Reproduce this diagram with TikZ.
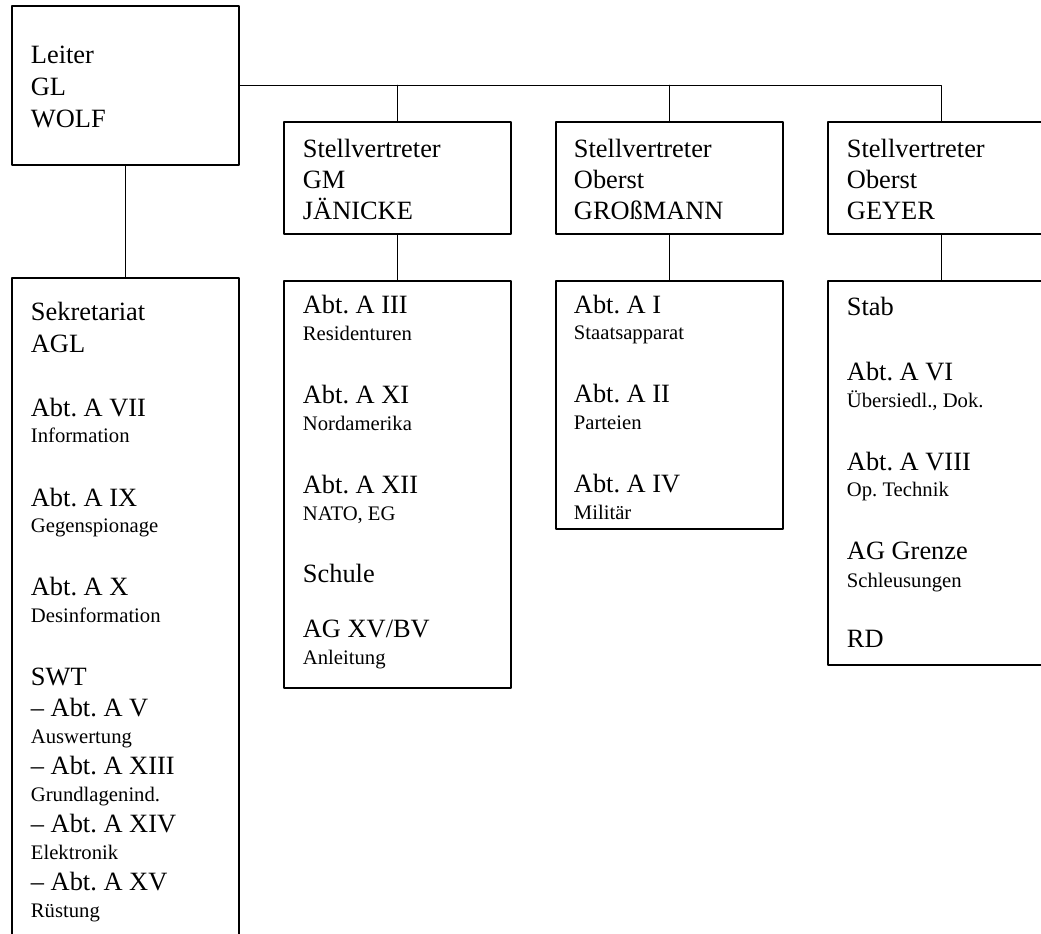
\documentclass[tikz,border=0pt]{standalone}
\usepackage{fontspec}
\setmainfont{Liberation Serif}
\frenchspacing
\tikzset{
  box/.style={draw,rectangle,inner sep=0pt,outer sep=0pt,anchor=north west,minimum width=170.25pt},
  txtbig/.style={inner sep=0pt,anchor=base west,font=\fontsize{19.8}{24}\selectfont},
  txtsmall/.style={inner sep=0pt,anchor=base west,font=\fontsize{15.5}{18}\selectfont}
}

\begin{document}
\begin{tikzpicture}[line cap=round,line join=round,line width=1.4pt,x=0.75pt,y=-0.75pt]
\useasboundingbox (0,0) rectangle (1041,933);
\clip (0,0) rectangle (1041,933);
\node[box,minimum height=119.25pt] (leiter) at (12,6) {};
\node[box,minimum height=84pt] (stv1) at (284,122) {};
\node[box,minimum height=84pt] (stv2) at (556,122) {};
\node[box,minimum height=84pt] (stv3) at (828,122) {};
\node[box,minimum height=525pt] (sek) at (12,278) {};
\node[box,minimum height=305.25pt] (abt1) at (284,281) {};
\node[box,minimum height=186pt] (abt2) at (556,281) {};
\node[box,minimum height=288pt] (abt3) at (828,281) {};
\draw (leiter.east) -| (stv3.north);
\draw (stv1.north) -- (stv1.north |- leiter.east);
\draw (stv2.north) -- (stv2.north |- leiter.east);
\draw (leiter.south) -- (sek.north);
\draw (stv1.south) -- (abt1.north);
\draw (stv2.south) -- (abt2.north);
\draw (stv3.south) -- (abt3.north);
\foreach \y/\s/\t [count=\i] in {63/txtbig/Leiter,95/txtbig/GL,127/txtbig/WOLF}
  \node[\s] (leiter-\i) at (30,\y) {\t};
\foreach \x/\n/\r/\p in {302/1/GM/JÄNICKE,573/2/Oberst/GROßMANN,846/3/Oberst/GEYER}{
  \node[txtbig] (stv\n-a) at (\x,157) {Stellvertreter};
  \node[txtbig] (stv\n-b) at (\x,188) {\r};
  \node[txtbig] (stv\n-c) at (\x,219) {\p};
}
\foreach \y/\s/\t [count=\i] in {320/txtbig/Sekretariat,352/txtbig/AGL,
  416/txtbig/Abt. A VII,442/txtsmall/Information,
  506/txtbig/Abt. A IX,532/txtsmall/Gegenspionage,
  595/txtbig/Abt. A X,622/txtsmall/Desinformation,
  685/txtbig/SWT,716/txtbig/– Abt. A V,743/txtsmall/Auswertung,
  774/txtbig/– Abt. A XIII,801/txtsmall/Grundlagenind.,
  832/txtbig/– Abt. A XIV,859/txtsmall/Elektronik,
  890/txtbig/– Abt. A XV,917/txtsmall/Rüstung}
  \node[\s] (sek-\i) at (30,\y) {\t};
\foreach \y/\s/\t [count=\i] in {313/txtbig/Abt. A III,340/txtsmall/Residenturen,
  403/txtbig/Abt. A XI,430/txtsmall/Nordamerika,
  493/txtbig/Abt. A XII,520/txtsmall/{NATO, EG},
  582/txtbig/Schule,
  637/txtbig/{AG XV/BV},664/txtsmall/Anleitung}
  \node[\s] (abt1-\i) at (302,\y) {\t};
\foreach \y/\s/\t [count=\i] in {313/txtbig/Abt. A I,339/txtsmall/Staatsapparat,
  402/txtbig/Abt. A II,429/txtsmall/Parteien,
  492/txtbig/Abt. A IV,519/txtsmall/Militär}
  \node[\s] (abt2-\i) at (573,\y) {\t};
\foreach \y/\s/\t [count=\i] in {315/txtbig/Stab,
  380/txtbig/Abt. A VI,407/txtsmall/{Übersiedl., Dok.},
  470/txtbig/Abt. A VIII,496/txtsmall/Op. Technik,
  559/txtbig/AG Grenze,587/txtsmall/Schleusungen,
  647/txtbig/RD}
  \node[\s] (abt3-\i) at (846,\y) {\t};
\end{tikzpicture}
\end{document}
